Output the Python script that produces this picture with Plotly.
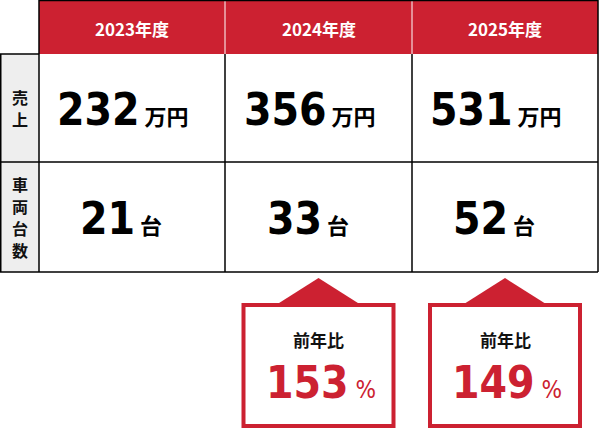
import plotly.graph_objects as go

years = ["2023年度", "2024年度", "2025年度"]
row_labels = ["売上", "車両台数"]
sales = [232, 356, 531]
sales_unit = "万円"
units = [21, 33, 52]
units_unit = "台"
ratio_cols = [1, 2]
ratios = [153, 149]
ratio_label = "前年比"

RED = "#cc2131"
GRAY = "#eeeeee"
NUM_FONT = "DejaVu Sans Condensed"
JP_FONT = "Noto Sans CJK JP"

col_x = [39, 225, 412, 598]
row_y = [0, 54, 162, 272]

fig = go.Figure()
shapes = []
ann = []

# header band
shapes.append(dict(type="rect", x0=col_x[0], x1=col_x[-1], y0=0, y1=row_y[1],
                   fillcolor=RED, line_width=0, layer="below"))
for x in col_x[1:-1]:
    shapes.append(dict(type="line", x0=x, x1=x, y0=0, y1=row_y[1], line=dict(color="white", width=1)))
# left gray column
shapes.append(dict(type="rect", x0=0, x1=col_x[0], y0=row_y[1], y1=row_y[-1],
                   fillcolor=GRAY, line_width=0, layer="below"))

# grid lines
blk = dict(color="black", width=1.5)
shapes.append(dict(type="line", x0=col_x[0], x1=col_x[-1], y0=0.5, y1=0.5, line=blk))
shapes.append(dict(type="line", x0=0, x1=col_x[0], y0=row_y[1], y1=row_y[1], line=blk))
for y in row_y[2:]:
    shapes.append(dict(type="line", x0=0, x1=col_x[-1], y0=y, y1=y, line=blk))
shapes.append(dict(type="line", x0=0.75, x1=0.75, y0=row_y[1], y1=row_y[-1], line=blk))
shapes.append(dict(type="line", x0=col_x[0], x1=col_x[0], y0=0, y1=row_y[-1], line=blk))
for x in col_x[1:-1]:
    shapes.append(dict(type="line", x0=x, x1=x, y0=row_y[1], y1=row_y[-1], line=blk))
shapes.append(dict(type="line", x0=col_x[-1], x1=col_x[-1], y0=0, y1=row_y[-1], line=blk))

centers = [(col_x[i] + col_x[i + 1]) / 2 for i in range(3)]

for i, yr in enumerate(years):
    ann.append(dict(x=centers[i], y=row_y[1] / 2 + 1, text="<b>" + yr + "</b>", showarrow=False,
                    font=dict(family=JP_FONT, size=17, color="white")))

# vertical row labels, one character per line
pitch = 22
for j, lab in enumerate(row_labels):
    mid = (row_y[j + 1] + row_y[j + 2]) / 2
    for k, ch in enumerate(lab):
        ann.append(dict(x=col_x[0] / 2, y=mid + (k - (len(lab) - 1) / 2) * pitch, text="<b>" + ch + "</b>",
                        showarrow=False, borderpad=0, font=dict(family=JP_FONT, size=16, color="#111111")))


def num_text(v, unit, unit_font, unit_size):
    return (f'<span style="font-family:{NUM_FONT};font-size:44px"><b>{v}</b></span>'
            f'<span style="font-family:{unit_font};font-size:{unit_size}px"> <b>{unit}</b></span>')


for i in range(3):
    ann.append(dict(x=centers[i] - 9, y=(row_y[1] + row_y[2]) / 2 + 1, text=num_text(sales[i], sales_unit, JP_FONT, 22),
                    showarrow=False, font=dict(family=JP_FONT, size=22, color="black")))
    ann.append(dict(x=centers[i] - 11, y=(row_y[2] + row_y[3]) / 2 + 1, text=num_text(units[i], units_unit, JP_FONT, 22),
                    showarrow=False, font=dict(family=JP_FONT, size=22, color="black")))

# callouts
for c, r in zip(ratio_cols, ratios):
    cx = centers[c]
    shapes.append(dict(type="path", path=f"M {cx-41},304 L {cx},278 L {cx+41},304 Z",
                       fillcolor=RED, line_width=0))
    shapes.append(dict(type="rect", x0=cx - 75, x1=cx + 75, y0=305, y1=426,
                       fillcolor="white", line=dict(color=RED, width=4)))
    ann.append(dict(x=cx, y=339, text="<b>" + ratio_label + "</b>", showarrow=False,
                    font=dict(family=JP_FONT, size=17, color="#111111")))
    ann.append(dict(x=cx + 2, y=382,
                    text=f'<span style="font-family:{NUM_FONT};font-size:44px"><b>{r}</b></span>'
                         f'<span style="font-family:{NUM_FONT};font-size:24px"> %</span>',
                    showarrow=False, font=dict(family=NUM_FONT, size=24, color=RED)))

fig.update_layout(
    width=599, height=429,
    margin=dict(l=0, r=0, t=0, b=0),
    paper_bgcolor="white", plot_bgcolor="white",
    xaxis=dict(range=[0, 599], visible=False, fixedrange=True),
    yaxis=dict(range=[429, 0], visible=False, fixedrange=True),
    shapes=shapes, annotations=ann,
    showlegend=False,
)

fig.write_html("out.html", config={"displayModeBar": False},
               post_script="document.body.style.margin='0';document.body.style.overflow='hidden';")
